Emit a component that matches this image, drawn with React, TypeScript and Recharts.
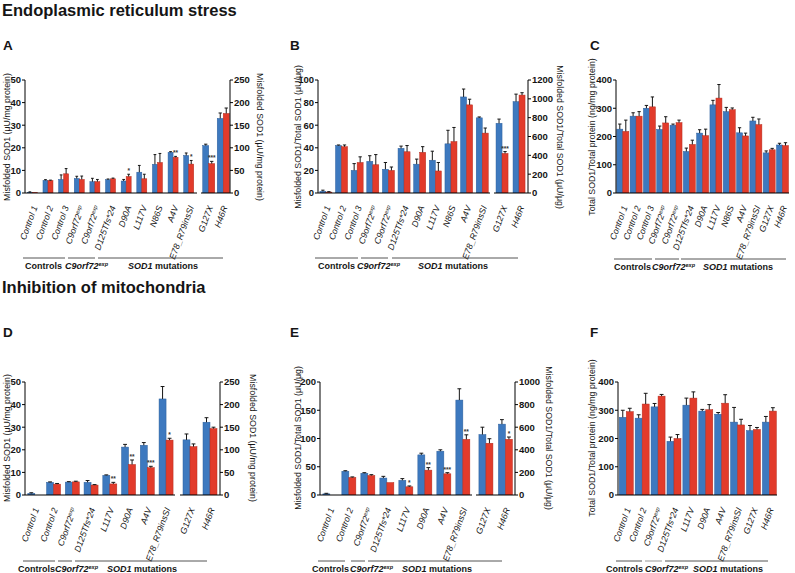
import React from 'react'
import { BarChart, Bar, XAxis, YAxis } from 'recharts'

const FONT = '"Liberation Sans", Arial, Helvetica, sans-serif'
const BLUE = '#3d79bf'
const BLUE_EDGE = '#2c5f9c'
const RED = '#e23b2b'
const RED_EDGE = '#b52c1f'
const INK = '#151515'

// ---- A: ER stress, misfolded SOD1 (left axis µU/mg) ----
const catsA1 = ['Control 1', 'Control 2', 'Control 3', 'C9orf72^exp', 'C9orf72^exp', 'D125Tfs*24', 'D90A', 'L117V', 'N86S', 'A4V', 'E78_R79insSI']
const blueA1 = [0.3, 5.6, 6.0, 6.4, 5.0, 5.9, 5.3, 9.2, 12.7, 18.0, 16.6]
const blueErrA1 = [0.2, 0.3, 2.0, 1.0, 1.5, 0.3, 0.7, 3.0, 4.3, 0.3, 1.1]
const redA1 = [0.2, 5.5, 8.5, 6.0, 5.0, 6.3, 7.3, 6.3, 13.5, 15.8, 12.8]
const redErrA1 = [0.1, 0.2, 2.3, 1.5, 1.0, 0.3, 1.0, 2.0, 4.0, 0.4, 1.6]
const sigA1 = ['', '', '', '', '', '', '*', '', '', '**', '*']
// right axis units
const catsA2 = ['G127X', 'H46R']
const blueA2 = [105, 165]
const blueErrA2 = [3, 12]
const redA2 = [65, 176]
const redErrA2 = [5, 12]
const sigA2 = ['***', '']

// ---- B: ER stress, misfolded / total SOD1 ----
const blueB1 = [1.5, 42, 20, 28, 21, 39.5, 25.5, 29, 43.5, 85, 66.5]
const blueErrB1 = [1, 0.5, 6, 5, 6, 2, 4.5, 8, 12, 7, 0.8]
const redB1 = [0.8, 41, 27, 25, 20, 36.5, 36, 19.5, 45.5, 78, 53]
const redErrB1 = [0.4, 1.5, 5, 9, 3, 5.5, 5, 7.5, 12.5, 5, 4.5]
const sigB1 = ['', '', '', '', '', '', '', '', '', '', '']
const blueB2 = [740, 970]
const blueErrB2 = [45, 80]
const redB2 = [420, 1040]
const redErrB2 = [20, 25]
const sigB2 = ['***', '']

// ---- C: ER stress, total SOD1 ----
const catsC = [...catsA1, ...catsA2]
const blueC = [226, 272, 300, 225, 240, 147, 212, 312, 288, 213, 255, 142, 170]
const blueErrC = [18, 12, 10, 12, 4, 12, 12, 16, 15, 18, 13, 7, 6]
const redC = [218, 272, 305, 248, 249, 172, 203, 336, 295, 202, 242, 153, 168]
const redErrC = [40, 16, 35, 22, 9, 15, 23, 48, 6, 10, 20, 5, 10]

// ---- D: mitochondria, misfolded SOD1 ----
const catsD1 = ['Control 1', 'Control 2', 'C9orf72^exp', 'D125Tfs*24', 'L117V', 'D90A', 'A4V', 'E78_R79insSI']
const blueD1 = [0.7, 5.6, 5.7, 5.6, 8.7, 21.2, 22.0, 42.5]
const blueErrD1 = [0.3, 0.2, 0.2, 0.8, 0.2, 1.2, 1.2, 5.5]
const redD1 = [0, 4.8, 5.8, 4.4, 4.9, 13.5, 12.1, 24.3]
const redErrD1 = [0, 0.3, 0.3, 0.2, 0.7, 2.0, 0.6, 0.8]
const sigD1 = ['', '', '', '', '**', '**', '***', '*']
const blueD2 = [122, 161]
const blueErrD2 = [13, 10]
const redD2 = [107, 147]
const redErrD2 = [6, 3]
const sigD2 = ['', '']

// ---- E: mitochondria, misfolded / total SOD1 ----
const blueE1 = [2, 42, 38.5, 30, 26, 71, 77.5, 168]
const blueErrE1 = [1, 1, 1, 3, 3, 3, 2.5, 20]
const redE1 = [0, 31, 34.5, 22, 14.5, 44, 37.5, 98.5]
const redErrE1 = [0, 1, 1.5, 0.5, 1.5, 4.5, 2, 8]
const sigE1 = ['', '', '', '', '*', '**', '***', '**']
const blueE2 = [535, 627]
const blueErrE2 = [65, 40]
const redE2 = [458, 493]
const redErrE2 = [40, 20]
const sigE2 = ['', '*']

// ---- F: mitochondria, total SOD1 ----
const catsF = [...catsD1, ...catsA2]
const blueF = [275, 272, 312, 190, 318, 297, 286, 258, 228, 258]
const blueErrF = [25, 12, 12, 15, 25, 6, 6, 52, 18, 20]
const redF = [295, 322, 350, 200, 343, 302, 325, 248, 232, 297]
const redErrF = [12, 38, 6, 14, 22, 18, 30, 20, 7, 12]

const ticks50 = [0, 10, 20, 30, 40, 50]
const ticks100 = [0, 20, 40, 60, 80, 100]
const ticks200 = [0, 50, 100, 150, 200]
const ticks250 = [0, 50, 100, 150, 200, 250]
const ticks400 = [0, 100, 200, 300, 400]
const ticks1000 = [0, 200, 400, 600, 800, 1000]
const ticks1200 = [0, 200, 400, 600, 800, 1000, 1200]

type Row = { i: number; b: number; be: number; r: number; re: number; sig: string }

function rows(cats: string[], b: number[], be: number[], r: number[], re: number[], sig?: string[]): Row[] {
  return cats.map((_, i) => ({ i, b: b[i], be: be[i], r: r[i], re: re[i], sig: sig ? sig[i] : '' }))
}

function Label({ text, supSize = 5.5 }: { text: string; supSize?: number }) {
  const [main, sup] = text.split('^')
  return (
    <>
      {main}
      {sup && <tspan fontSize={supSize} dy={-3}>{sup}</tspan>}
    </>
  )
}

const makeTick = (labels: string[]) => (props: any) => {
  const { x, y, payload } = props
  return (
    <g transform={`translate(${x + 2},${y + 5})`}>
      <text transform="rotate(-70)" textAnchor="end" dy="0.35em" fontSize={8.8} fontStyle="italic" fontFamily={FONT} fill={INK}>
        <Label text={labels[payload.value]} />
      </text>
    </g>
  )
}

const makeShape = (valKey: 'b' | 'r', errKey: 'be' | 're', edge: string, withSig: boolean) => (props: any) => {
  const { x, y, width, height, fill, payload } = props
  const v = payload[valKey]
  const k = v > 0 ? height / v : 0
  const e = (payload[errKey] || 0) * k
  const cx = x + width / 2
  const cap = width * 0.55
  return (
    <g>
      {height > 0 && <rect x={x} y={y} width={width} height={height} fill={fill} stroke={edge} strokeWidth={0.5} />}
      {e > 0.3 && <line x1={cx} x2={cx} y1={y} y2={y - e} stroke={INK} strokeWidth={1} />}
      {e > 0.3 && <line x1={cx - cap / 2} x2={cx + cap / 2} y1={y - e} y2={y - e} stroke={INK} strokeWidth={1} />}
      {withSig && payload.sig && (
        <text x={cx} y={y - e - 1} textAnchor="middle" fontSize={6.5} fontWeight="bold" fontFamily={FONT} fill="#333">
          {payload.sig}
        </text>
      )}
    </g>
  )
}

const blueShape = makeShape('b', 'be', BLUE_EDGE, false)
const redShape = makeShape('r', 're', RED_EDGE, true)

interface SegProps {
  left: number
  top: number
  plotW: number
  data: Row[]
  labels: string[]
  domain: [number, number]
  ticks: number[]
  axis: 'left' | 'right'
  gap: string
}

const PLOT_H = 113
const M_TOP = 8
const X_H = 72

function Seg({ left, top, plotW, data, labels, domain, ticks, axis, gap }: SegProps) {
  const yW = axis === 'left' ? 26 : 30
  const width = plotW + yW + 4
  const height = M_TOP + PLOT_H + X_H
  const divLeft = axis === 'left' ? left - yW : left
  return (
    <div style={{ position: 'absolute', left: divLeft, top: top - M_TOP }}>
      <BarChart
        width={width}
        height={height}
        data={data}
        margin={{ top: M_TOP, right: 4, bottom: 0, left: 0 }}
        barGap={0}
        barCategoryGap={gap}
      >
        <XAxis dataKey="i" type="category" interval={0} tickLine={false} axisLine={{ stroke: '#000', strokeWidth: 1 }} height={X_H} tick={makeTick(labels)} />
        <YAxis
          orientation={axis}
          width={yW}
          domain={domain}
          ticks={ticks}
          interval={0}
          allowDataOverflow
          tickSize={3}
          tickMargin={1}
          axisLine={{ stroke: '#000', strokeWidth: 1 }}
          tickLine={{ stroke: '#000' }}
          tick={{ fontSize: 9.5, fontWeight: 'bold', fill: INK, fontFamily: FONT }}
        />
        <Bar dataKey="b" fill={BLUE} shape={blueShape} isAnimationActive={false} />
        <Bar dataKey="r" fill={RED} shape={redShape} isAnimationActive={false} />
      </BarChart>
    </div>
  )
}

function VTitle({ x, y, angle, children }: { x: number; y: number; angle: number; children: React.ReactNode }) {
  return (
    <text transform={`translate(${x},${y}) rotate(${angle})`} textAnchor="middle" dominantBaseline="central" fontSize={8.8} fontFamily={FONT} fill={INK}>
      {children}
    </text>
  )
}

function Groups({ y, lines, labelX, greyMid }: { y: number; lines: [number, number][]; labelX: number[]; greyMid?: boolean }) {
  return (
    <g>
      {lines.map(([a, b], k) => (
        <line key={k} x1={a} x2={b} y1={y} y2={y} stroke={greyMid && k === 1 ? '#999' : '#555'} strokeWidth={1} />
      ))}
      <text x={labelX[0]} y={y + 11} fontSize={9} fontWeight="bold" fontFamily={FONT} fill={INK}>Controls</text>
      <text x={labelX[1]} y={y + 11} fontSize={9} fontWeight="bold" fontStyle="italic" fontFamily={FONT} fill={INK}>
        C9orf72<tspan fontSize={5.5} dy={-3}>exp</tspan>
      </text>
      <text x={labelX[2]} y={y + 11} fontSize={9} fontWeight="bold" fontFamily={FONT} fill={INK}>
        <tspan fontStyle="italic">SOD1</tspan> mutations
      </text>
    </g>
  )
}

const dataA1 = rows(catsA1, blueA1, blueErrA1, redA1, redErrA1, sigA1)
const dataA2 = rows(catsA2, blueA2, blueErrA2, redA2, redErrA2, sigA2)
const dataB1 = rows(catsA1, blueB1, blueErrB1, redB1, redErrB1, sigB1)
const dataB2 = rows(catsA2, blueB2, blueErrB2, redB2, redErrB2, sigB2)
const dataC = rows(catsC, blueC, blueErrC, redC, redErrC)
const dataD1 = rows(catsD1, blueD1, blueErrD1, redD1, redErrD1, sigD1)
const dataD2 = rows(catsA2, blueD2, blueErrD2, redD2, redErrD2, sigD2)
const dataE1 = rows(catsD1, blueE1, blueErrE1, redE1, redErrE1, sigE1)
const dataE2 = rows(catsA2, blueE2, blueErrE2, redE2, redErrE2, sigE2)
const dataF = rows(catsF, blueF, blueErrF, redF, redErrF)

export default function App() {
  return (
    <div style={{ position: 'absolute', left: 0, top: 0, width: 795, height: 573, background: '#fff', fontFamily: FONT, overflow: 'hidden' }}>
      <style>{'svg.recharts-surface{overflow:visible}'}</style>

      <Seg left={25} top={80} plotW={172} data={dataA1} labels={catsA1} domain={[0, 50]} ticks={ticks50} axis="left" gap="15%" />
      <Seg left={201} top={80} plotW={29} data={dataA2} labels={catsA2} domain={[0, 250]} ticks={ticks250} axis="right" gap="12%" />
      <Seg left={318} top={80} plotW={172} data={dataB1} labels={catsA1} domain={[0, 100]} ticks={ticks100} axis="left" gap="12%" />
      <Seg left={494} top={80} plotW={34} data={dataB2} labels={catsA2} domain={[0, 1200]} ticks={ticks1200} axis="right" gap="12%" />
      <Seg left={616} top={80} plotW={173} data={dataC} labels={catsC} domain={[0, 400]} ticks={ticks400} axis="left" gap="6%" />

      <Seg left={25} top={382} plotW={150} data={dataD1} labels={catsD1} domain={[0, 50]} ticks={ticks50} axis="left" gap="15%" />
      <Seg left={180} top={382} plotW={40} data={dataD2} labels={catsA2} domain={[0, 250]} ticks={ticks250} axis="right" gap="15%" />
      <Seg left={320} top={382} plotW={152} data={dataE1} labels={catsD1} domain={[0, 200]} ticks={ticks200} axis="left" gap="15%" />
      <Seg left={476} top={382} plotW={39} data={dataE2} labels={catsA2} domain={[0, 1000]} ticks={ticks1000} axis="right" gap="15%" />
      <Seg left={618} top={382} plotW={159} data={dataF} labels={catsF} domain={[0, 400]} ticks={ticks400} axis="left" gap="8%" />

      <svg width={795} height={573} style={{ position: 'absolute', left: 0, top: 0, pointerEvents: 'none' }}>
        <text x={2} y={16} fontSize={16.5} fontWeight="bold" fontFamily={FONT} fill={INK}>Endoplasmic reticulum stress</text>
        <text x={2} y={293} fontSize={16.5} fontWeight="bold" fontFamily={FONT} fill={INK}>Inhibition of mitochondria</text>

        <text x={3} y={50} fontSize={13.5} fontWeight="bold" fontFamily={FONT} fill={INK}>A</text>
        <text x={290} y={50} fontSize={13.5} fontWeight="bold" fontFamily={FONT} fill={INK}>B</text>
        <text x={590} y={50} fontSize={13.5} fontWeight="bold" fontFamily={FONT} fill={INK}>C</text>
        <text x={3} y={337} fontSize={13.5} fontWeight="bold" fontFamily={FONT} fill={INK}>D</text>
        <text x={290} y={337} fontSize={13.5} fontWeight="bold" fontFamily={FONT} fill={INK}>E</text>
        <text x={590} y={337} fontSize={13.5} fontWeight="bold" fontFamily={FONT} fill={INK}>F</text>

        <VTitle x={7} y={137} angle={-90}>Misfolded SOD1 (μU/mg protein)</VTitle>
        <VTitle x={260} y={137} angle={90}>Misfolded SOD1 (μU/mg protein)</VTitle>
        <VTitle x={298} y={137} angle={-90}>Misfolded SOD1/Total SOD1 (μU/μg)</VTitle>
        <VTitle x={560} y={137} angle={90}>Misfolded SOD1/Total SOD1 (μU/μg)</VTitle>
        <VTitle x={592} y={137} angle={-90}>Total SOD1/Total protein (ng/mg protein)</VTitle>

        <VTitle x={7} y={438} angle={-90}>Misfolded SOD1 (μU/mg protein)</VTitle>
        <VTitle x={253} y={438} angle={90}>Misfolded SOD1 (μU/mg protein)</VTitle>
        <VTitle x={298} y={438} angle={-90}>Misfolded SOD1/Total SOD1 (μU/μg)</VTitle>
        <VTitle x={549} y={438} angle={90}>Misfolded SOD1/Total SOD1 (μU/μg)</VTitle>
        <VTitle x={592} y={438} angle={-90}>Total SOD1/Total protein (ng/mg protein)</VTitle>

        <Groups y={258} lines={[[23, 65], [68, 95], [98, 223]]} labelX={[25, 65, 128]} />
        <Groups y={258} lines={[[315, 358], [361, 388], [392, 518]]} labelX={[318, 357, 418]} />
        <Groups y={259} lines={[[614, 652], [655, 679], [681, 786]]} labelX={[614, 652, 703]} />
        <Groups y={561} lines={[[23, 55], [58, 72], [75, 207]]} labelX={[18, 55, 107]} />
        <Groups y={561} lines={[[318, 345], [351, 365], [368, 502]]} labelX={[312, 350, 402]} />
        <Groups y={561} lines={[[616, 642], [645, 662], [665, 768]]} labelX={[606, 645, 693]} greyMid />
      </svg>
    </div>
  )
}
